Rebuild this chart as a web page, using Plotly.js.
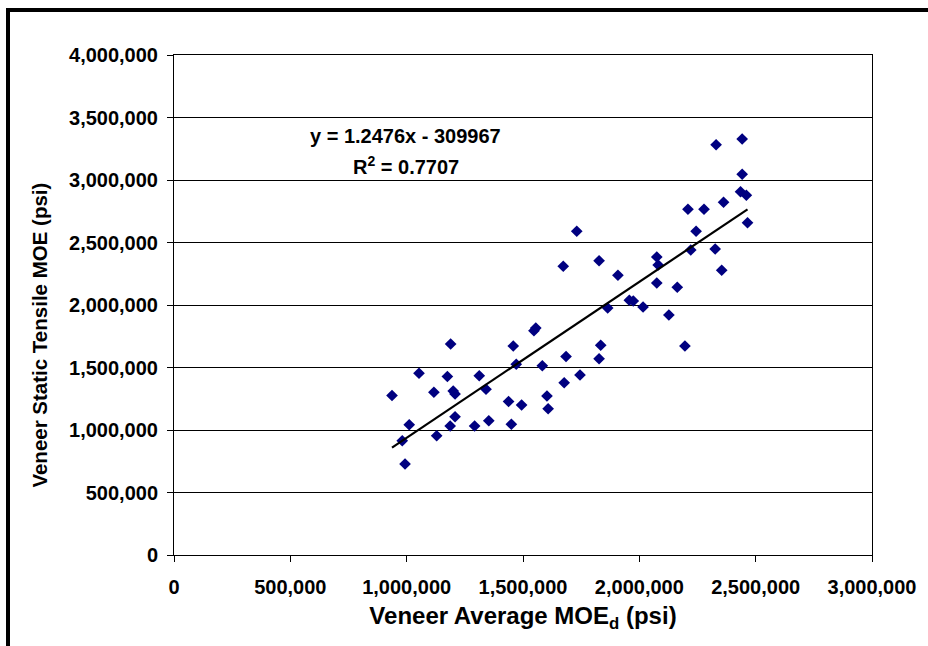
<!DOCTYPE html>
<html>
<head>
<meta charset="utf-8">
<script src="https://cdn.plot.ly/plotly-3.0.1.min.js"></script>
<style>
  html, body { margin: 0; padding: 0; background: #fff; }
  #wrap { position: relative; width: 928px; height: 646px; overflow: hidden; }
  #chart { position: absolute; left: 0; top: 0; width: 928px; height: 646px; }
  #frame { position: absolute; left: 6px; top: 8px; width: 2000px; height: 2000px;
           border-left: 4px solid #000; border-top: 4px solid #000; pointer-events: none; }
</style>
</head>
<body>
<div id="wrap">
  <div id="chart"></div>
  <div id="frame"></div>
</div>
<script>
// Veneer Average MOEd (psi)
const moeD = [
  937000, 981000, 993000, 1011000, 1053000, 1117000, 1129000, 1175000, 1189000, 1200000,
  1208000, 1208000, 1187000, 1292000, 1312000, 1341000, 1353000, 1438000, 1450000, 1458000,
  1471000, 1494000, 1547000, 1555000, 1583000, 1603000, 1608000, 1677000, 1685000, 1745000,
  1827000, 1834000, 1731000, 1673000, 1827000, 1908000, 1864000, 1957000, 1974000, 2016000,
  2075000, 2081000, 2075000, 2163000, 2127000, 2196000, 2221000, 2326000, 2354000, 2244000,
  2209000, 2278000, 2362000, 2465000, 2435000, 2460000, 2442000, 2330000, 2442000
];
// Veneer Static Tensile MOE (psi)
const staticMOE = [
  1276000, 914000, 728000, 1042000, 1454000, 1302000, 954000, 1428000, 1688000, 1312000,
  1288000, 1106000, 1032000, 1032000, 1434000, 1326000, 1074000, 1228000, 1046000, 1672000,
  1526000, 1200000, 1794000, 1816000, 1514000, 1272000, 1170000, 1378000, 1588000, 1440000,
  1570000, 1678000, 2590000, 2310000, 2354000, 2238000, 1976000, 2038000, 2032000, 1984000,
  2384000, 2320000, 2176000, 2142000, 1920000, 1672000, 2440000, 2448000, 2278000, 2590000,
  2766000, 2766000, 2822000, 2658000, 2906000, 2878000, 3046000, 3282000, 3328000
];
// Linear trend shown on the chart
const slope = 1.2476;
const intercept = -309967;
const eqText = "y = 1.2476x - 309967";
const r2Text = "R<sup>2</sup> = 0.7707";
const xTicks = [0, 500000, 1000000, 1500000, 2000000, 2500000, 3000000];
const yTicks = [0, 500000, 1000000, 1500000, 2000000, 2500000, 3000000, 3500000, 4000000];

const xMin = Math.min(...moeD), xMax = Math.max(...moeD);
const trendX = [xMin, xMax];
const trendY = trendX.map(v => slope * v + intercept);

const FONT = 'Liberation Sans, Arial, sans-serif';

const data = [
  {
    x: moeD, y: staticMOE, type: 'scatter', mode: 'markers',
    marker: { symbol: 'diamond', size: 9, color: '#000080' },
    hoverinfo: 'x+y', showlegend: false, cliponaxis: false
  },
  {
    x: trendX, y: trendY, type: 'scatter', mode: 'lines',
    line: { color: '#000', width: 2.2 }, hoverinfo: 'skip', showlegend: false
  }
];

const layout = {
  width: 928, height: 646,
  margin: { l: 174, r: 56, t: 55, b: 91, pad: 0 },
  paper_bgcolor: '#fff', plot_bgcolor: '#fff',
  font: { family: FONT, size: 20, color: '#000', weight: 700 },
  showlegend: false,
  xaxis: {
    range: [0, 3000000], tickvals: xTicks, tickformat: ',d',
    showgrid: false, zeroline: false,
    showline: true, linecolor: '#000', linewidth: 1, mirror: true,
    ticks: 'outside', ticklen: 6, tickcolor: '#000', tickwidth: 1,
    ticklabelstandoff: 8,
    tickfont: { family: FONT, size: 20, weight: 700, color: '#000' },
    title: { text: 'Veneer Average MOE<sub>d</sub> (psi)', standoff: 10,
             font: { family: FONT, size: 24, weight: 700, color: '#000' } }
  },
  yaxis: {
    range: [0, 4000000], tickvals: yTicks, tickformat: ',d',
    showgrid: true, gridcolor: '#000', gridwidth: 1, zeroline: false,
    showline: true, linecolor: '#000', linewidth: 1, mirror: true,
    ticks: 'outside', ticklen: 6, tickcolor: '#000', tickwidth: 1,
    ticklabelstandoff: 5,
    tickfont: { family: FONT, size: 20, weight: 700, color: '#000' }
  },
  annotations: [
    { xref: 'paper', yref: 'paper', x: -0.194, y: 0.44, xanchor: 'center', yanchor: 'middle',
      text: 'Veneer Static Tensile MOE (psi)', textangle: -90, showarrow: false,
      font: { family: FONT, size: 20.5, weight: 700, color: '#000' } },
    { xref: 'paper', yref: 'paper', x: 0.331, y: 0.838, xanchor: 'center', yanchor: 'middle',
      text: eqText, showarrow: false,
      font: { family: FONT, size: 20, weight: 700, color: '#000' } },
    { xref: 'paper', yref: 'paper', x: 0.332, y: 0.78, xanchor: 'center', yanchor: 'middle',
      text: r2Text, showarrow: false,
      font: { family: FONT, size: 20, weight: 700, color: '#000' } }
  ]
};

Plotly.newPlot('chart', data, layout, { displayModeBar: false, staticPlot: true });
</script>
</body>
</html>
